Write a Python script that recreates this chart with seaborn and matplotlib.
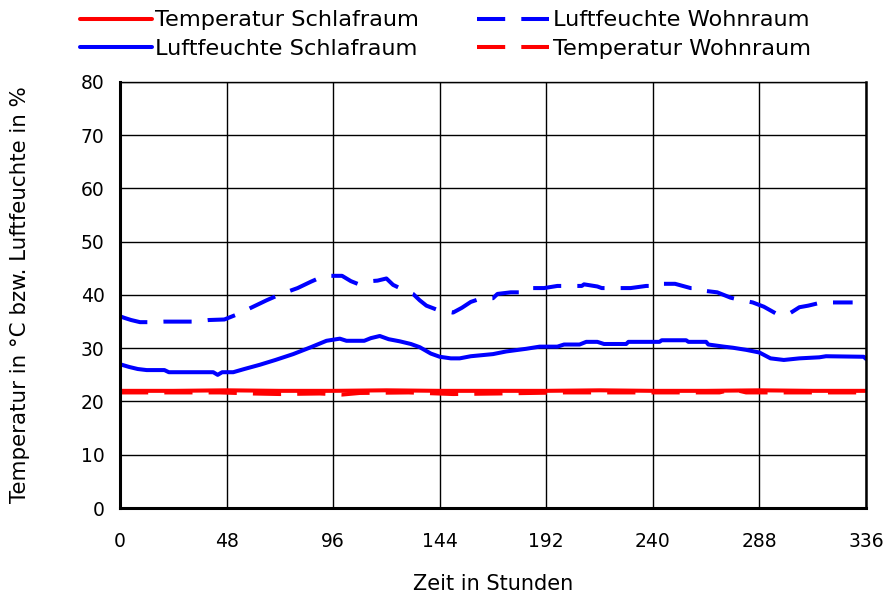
import pandas as pd
import seaborn as sns
import matplotlib.pyplot as plt

# Luftfeuchte Schlafraum (solid blue)
t_lf_schlaf = [0, 4, 8, 12, 20, 22, 42, 44, 46, 51, 56, 63, 70, 78, 86, 93, 99, 102, 110,
               113, 117, 121, 126, 131, 135, 140, 144, 149, 153, 158, 168, 174, 183, 189,
               197, 200, 207, 210, 215, 218, 228, 229, 243, 244, 255, 256, 264, 265, 272,
               276, 282, 288, 293, 299, 306, 315, 318, 335, 336]
lf_schlaf = [27.0, 26.5, 26.1, 25.9, 25.9, 25.5, 25.5, 25.0, 25.5, 25.5, 26.1, 26.9, 27.8,
             28.9, 30.2, 31.4, 31.8, 31.4, 31.4, 31.9, 32.3, 31.7, 31.3, 30.8, 30.2, 29.0,
             28.4, 28.1, 28.1, 28.5, 28.9, 29.4, 29.9, 30.3, 30.3, 30.7, 30.7, 31.2, 31.2,
             30.8, 30.8, 31.2, 31.2, 31.5, 31.5, 31.2, 31.2, 30.7, 30.3, 30.1, 29.7, 29.2,
             28.1, 27.8, 28.1, 28.3, 28.5, 28.4, 28.0]

# Luftfeuchte Wohnraum (dashed blue)
t_lf_wohn = [0, 2, 5, 9, 13, 20, 34, 40, 47, 50, 53, 60, 66, 72, 80, 86, 92, 100, 104, 107,
             110, 116, 120, 123, 128, 132, 135, 138, 143, 150, 154, 158, 163, 168, 170, 176,
             183, 185, 191, 197, 208, 209, 215, 217, 230, 237, 243, 244, 250, 257, 261, 263,
             269, 275, 279, 285, 290, 296, 301, 303, 306, 310, 316, 330]
lf_wohn = [36.0, 35.7, 35.3, 34.9, 34.9, 35.0, 35.0, 35.3, 35.4, 35.9, 36.4, 37.8, 39.0,
           40.1, 41.3, 42.5, 43.6, 43.6, 42.6, 42.1, 42.5, 42.7, 43.1, 41.9, 40.9, 40.2,
           39.0, 38.0, 37.2, 36.7, 37.6, 38.7, 39.4, 39.4, 40.2, 40.5, 40.5, 41.3, 41.3,
           41.7, 41.7, 42.0, 41.6, 41.3, 41.3, 41.7, 41.7, 42.1, 42.1, 41.3, 41.3, 40.8,
           40.5, 39.5, 39.1, 38.6, 37.8, 36.4, 36.4, 36.9, 37.7, 38.0, 38.6, 38.6]

# Temperatur Schlafraum (solid red)
t_temp_schlaf = [0, 24, 48, 72, 96, 120, 144, 168, 192, 216, 240, 264, 288, 312, 336]
temp_schlaf = [22.0, 22.0, 22.1, 22.0, 22.0, 22.1, 22.0, 22.0, 22.0, 22.1, 22.0, 22.0,
               22.1, 22.0, 22.0]

# Temperatur Wohnraum (dashed red)
t_temp_wohn = [0, 20, 45, 60, 72, 90, 100, 108, 130, 150, 170, 200, 240, 270, 276, 282,
               300, 336]
temp_wohn = [21.7, 21.7, 21.7, 21.5, 21.4, 21.5, 21.3, 21.6, 21.7, 21.4, 21.5, 21.7, 21.7,
             21.7, 22.3, 21.7, 21.7, 21.7]

sns.set_style("white")
plt.rcParams['font.family'] = ['DejaVu Sans']
plt.rcParams['text.color'] = 'black'
plt.rcParams['axes.labelcolor'] = 'black'
plt.rcParams['xtick.color'] = 'black'
plt.rcParams['ytick.color'] = 'black'

fig = plt.figure(figsize=(8.85, 5.98), dpi=100)
ax = fig.add_axes([0.1356, 0.1505, 0.8429, 0.7124])

lw = 2.9
sns.lineplot(x=t_temp_schlaf, y=temp_schlaf, ax=ax, color='#ff0000', lw=lw,
             label='Temperatur Schlafraum')
sns.lineplot(x=t_lf_schlaf, y=lf_schlaf, ax=ax, color='#0000ff', lw=lw,
             label='Luftfeuchte Schlafraum')
sns.lineplot(x=t_lf_wohn, y=lf_wohn, ax=ax, color='#0000ff', lw=lw,
             label='Luftfeuchte Wohnraum')
sns.lineplot(x=t_temp_wohn, y=temp_wohn, ax=ax, color='#ff0000', lw=lw,
             label='Temperatur Wohnraum')
ax.lines[2].set_dashes((7, 4))
ax.lines[3].set_dashes((7, 4))

ax.set_xlim(0, 336)
ax.set_ylim(0, 80)
ax.set_xticks(range(0, 337, 48))
ax.set_yticks(range(0, 81, 10))
ax.grid(True, color='black', lw=1)
ax.tick_params(length=0, labelsize=13.5, colors='black')
ax.tick_params(axis='x', pad=17)
ax.tick_params(axis='y', pad=11)
for side in ['left', 'bottom']:
    ax.spines[side].set_linewidth(2.2)
ax.spines['right'].set_linewidth(1.8)
ax.spines['top'].set_linewidth(1)
for sp in ax.spines.values():
    sp.set_color('black')

ax.set_xlabel('Zeit in Stunden', fontsize=15, color='black')
ax.set_ylabel('Temperatur in °C bzw. Luftfeuchte in %', fontsize=15.4, color='black')
ax.xaxis.set_label_coords(0.5, -0.156)
ax.yaxis.set_label_coords(-0.121, 0.5)

ax.legend(loc='upper left', bbox_to_anchor=(-0.054, 1.168), ncol=2, frameon=False,
          fontsize=16.2, handlelength=3.2, handletextpad=0.15, columnspacing=2.6,
          labelspacing=0.38, borderpad=0, borderaxespad=0, labelcolor='black')

fig.savefig('out.png', dpi=100)
